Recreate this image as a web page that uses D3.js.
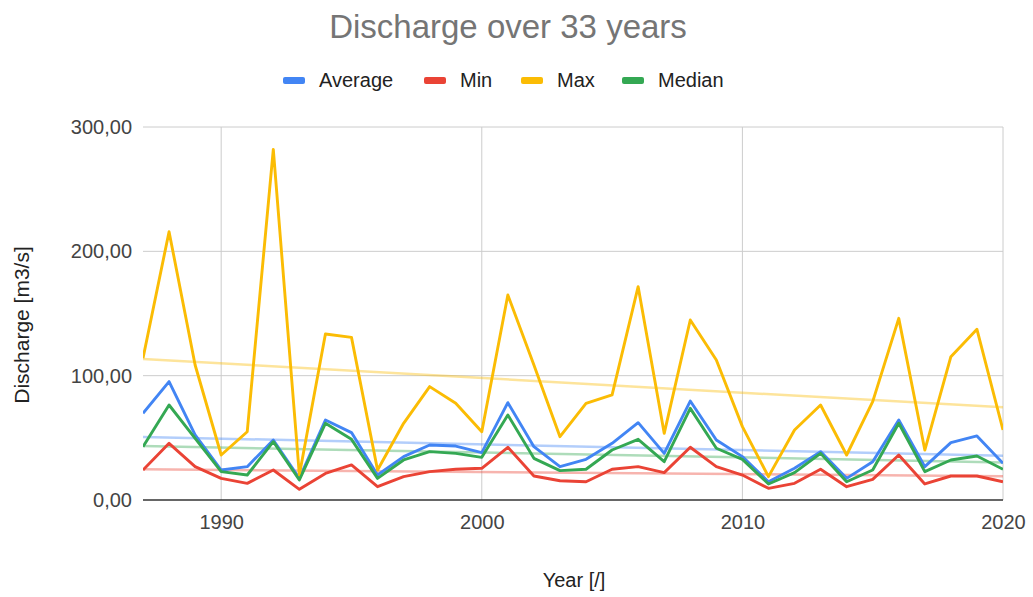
<!DOCTYPE html>
<html>
<head>
<meta charset="utf-8">
<script src="https://cdn.jsdelivr.net/npm/d3@7"></script>
<style>
  html, body { margin: 0; padding: 0; background: #fff; }
  svg { display: block; font-family: "Liberation Sans", Arial, sans-serif; }
</style>
</head>
<body>
<svg id="chart" width="1033" height="597"></svg>
<script>
// Yearly discharge statistics, 1987–2020 (m3/s)
const years = d3.range(1987, 2021);
const average = [69.7, 95.2, 52.3, 24.1, 26.8, 48.3, 17.4, 64.3, 54.2, 20.1, 34.9, 44.2, 43.4, 38.1, 78.3, 42.9, 26.8, 32.7, 45.6, 62.2, 37.5, 79.6, 48.3, 34.9, 14.7, 25.5, 38.9, 17.4, 30.8, 64.3, 26.8, 46.1, 51.5, 29.5];
const minimum = [24.1, 45.6, 26.8, 17.4, 13.4, 24.1, 8.6, 21.4, 28.2, 10.7, 18.8, 22.8, 24.7, 25.5, 42.4, 19.3, 15.5, 14.7, 24.7, 26.8, 22.0, 42.4, 26.8, 20.1, 9.4, 13.4, 24.7, 10.7, 16.6, 36.2, 12.9, 19.3, 19.3, 14.7];
const maximum = [114.0, 215.8, 108.6, 36.2, 54.9, 282.0, 20.1, 133.5, 130.8, 24.1, 61.7, 91.2, 77.8, 54.9, 164.9, 108.6, 50.9, 77.8, 84.5, 171.6, 53.6, 144.8, 112.6, 59.0, 18.8, 56.3, 76.4, 36.2, 79.1, 146.1, 40.2, 115.3, 137.3, 56.3];
const median = [42.9, 76.4, 49.6, 22.8, 20.1, 46.9, 16.1, 61.7, 48.8, 17.4, 32.2, 38.9, 37.5, 34.3, 68.4, 33.5, 23.6, 24.7, 40.2, 48.8, 30.8, 73.7, 41.6, 32.7, 12.9, 22.0, 37.5, 14.7, 24.1, 61.7, 22.8, 32.2, 35.4, 24.7];

const seriesNames = ["Average", "Min", "Max", "Median"];
const seriesValues = [average, minimum, maximum, median];
const seriesColors = ["#4285F4", "#EA4335", "#FBBC04", "#34A853"];

const xTicks = [1990, 2000, 2010, 2020];
const yTicks = [0, 100, 200, 300];

const titleText = "Discharge over 33 years";
const xTitle = "Year [/]";
const yTitle = "Discharge [m3/s]";

const svg = d3.select("#chart");
const plot = { left: 143, right: 1003, top: 127, bottom: 500 };

const x = d3.scaleLinear().domain([1987, 2020]).range([plot.left, plot.right]);
const y = d3.scaleLinear().domain([0, 300]).range([plot.bottom, plot.top]);

const locale = d3.formatLocale({ decimal: ",", thousands: ".", grouping: [3], currency: ["", "€"] });
const fmt = locale.format(".2f");

// Title
svg.append("text")
  .attr("x", 508).attr("y", 38)
  .attr("text-anchor", "middle")
  .attr("font-size", 33)
  .attr("fill", "#757575")
  .text(titleText);

// Legend
const legendItems = [
  { sw: 283, tx: 319 },
  { sw: 424, tx: 460 },
  { sw: 521, tx: 557 },
  { sw: 622, tx: 658 }
];
seriesNames.forEach((name, i) => {
  const g = svg.append("g");
  g.append("rect")
    .attr("x", legendItems[i].sw).attr("y", 77)
    .attr("width", 22).attr("height", 7).attr("rx", 2)
    .attr("fill", seriesColors[i]);
  g.append("text")
    .attr("x", legendItems[i].tx).attr("y", 87)
    .attr("font-size", 20)
    .attr("fill", "#222")
    .text(name);
});

// Gridlines
const grid = svg.append("g");
grid.selectAll("line.h")
  .data(yTicks.filter(d => d > 0))
  .join("line")
  .attr("x1", plot.left).attr("x2", plot.right)
  .attr("y1", d => y(d)).attr("y2", d => y(d))
  .attr("stroke", "#cccccc").attr("stroke-width", 1);
grid.selectAll("line.v")
  .data(xTicks)
  .join("line")
  .attr("x1", d => x(d)).attr("x2", d => x(d))
  .attr("y1", plot.top).attr("y2", plot.bottom)
  .attr("stroke", "#cccccc").attr("stroke-width", 1);

// Y axis labels
const yAxis = d3.axisLeft(y).tickValues(yTicks).tickFormat(fmt).tickSize(0).tickPadding(11);
svg.append("g")
  .attr("transform", `translate(${plot.left},0)`)
  .call(yAxis)
  .call(g => g.select(".domain").remove())
  .call(g => g.selectAll("text")
    .attr("font-size", 20)
    .attr("font-family", "Liberation Sans, Arial, sans-serif")
    .attr("fill", "#444"));

// X axis labels
const xAxis = d3.axisBottom(x).tickValues(xTicks).tickFormat(d3.format("d")).tickSize(0).tickPadding(15);
svg.append("g")
  .attr("transform", `translate(0,${plot.bottom})`)
  .call(xAxis)
  .call(g => g.select(".domain").remove())
  .call(g => g.selectAll("text")
    .attr("font-size", 20)
    .attr("font-family", "Liberation Sans, Arial, sans-serif")
    .attr("fill", "#444"));

// Axis titles
svg.append("text")
  .attr("x", 574).attr("y", 587)
  .attr("text-anchor", "middle")
  .attr("font-size", 20)
  .attr("fill", "#222")
  .text(xTitle);
svg.append("text")
  .attr("transform", "translate(29,325) rotate(-90)")
  .attr("text-anchor", "middle")
  .attr("font-size", 21)
  .attr("fill", "#222")
  .text(yTitle);

// Linear trendline (least squares) for each series
function trend(vals) {
  const n = vals.length;
  const mx = d3.mean(years), my = d3.mean(vals);
  let sxy = 0, sxx = 0;
  years.forEach((yr, i) => { sxy += (yr - mx) * (vals[i] - my); sxx += (yr - mx) ** 2; });
  const b = sxy / sxx, a = my - b * mx;
  return [years[0], years[n - 1]].map(yr => [yr, a + b * yr]);
}

svg.append("clipPath").attr("id", "plotclip")
  .append("rect")
  .attr("x", plot.left).attr("y", plot.top - 5)
  .attr("width", plot.right - plot.left).attr("height", plot.bottom - plot.top + 5);

const marks = svg.append("g").attr("clip-path", "url(#plotclip)");

const line = d3.line().x(d => x(d[0])).y(d => y(d[1]));

seriesValues.forEach((vals, i) => {
  marks.append("path")
    .datum(trend(vals))
    .attr("d", line)
    .attr("fill", "none")
    .attr("stroke", seriesColors[i])
    .attr("stroke-opacity", 0.4)
    .attr("stroke-width", 2.5);
});

seriesValues.forEach((vals, i) => {
  marks.append("path")
    .datum(years.map((yr, j) => [yr, vals[j]]))
    .attr("d", line)
    .attr("fill", "none")
    .attr("stroke", seriesColors[i])
    .attr("stroke-width", 2.9)
    .attr("stroke-linejoin", "round");
});

// Baseline
svg.append("line")
  .attr("x1", plot.left).attr("x2", plot.right)
  .attr("y1", y(0)).attr("y2", y(0))
  .attr("stroke", "#333").attr("stroke-width", 1.5);
</script>
</body>
</html>
